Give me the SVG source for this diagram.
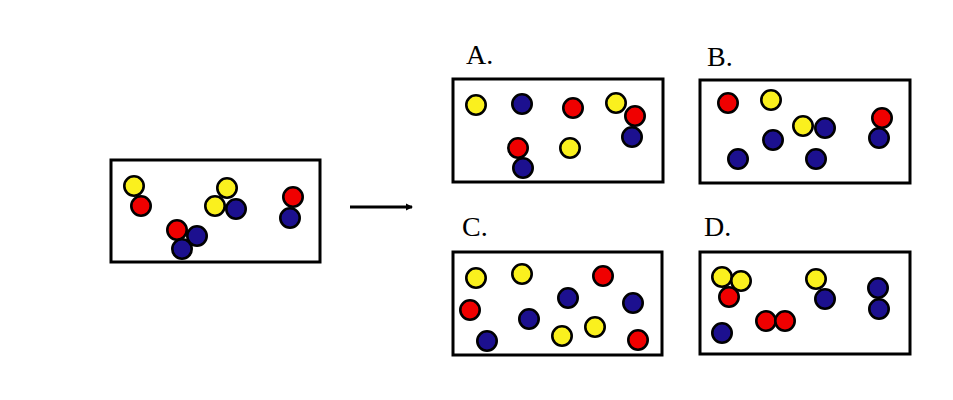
<svg xmlns="http://www.w3.org/2000/svg" width="953" height="400" viewBox="0 0 953 400">
<style>
.box{fill:#fff;stroke:#000;stroke-width:3}
.y{fill:#FAF01E;stroke:#000;stroke-width:2.6}
.r{fill:#F00000;stroke:#000;stroke-width:2.6}
.b{fill:#1C108F;stroke:#000;stroke-width:2.6}
.lbl{font-family:"Liberation Serif",serif;font-size:28px;fill:#000}
</style>
<defs>
<marker id="ah" markerWidth="9" markerHeight="9" refX="6" refY="4.5" orient="auto" markerUnits="userSpaceOnUse">
<path d="M0,1 L7,4.5 L0,8 Z" fill="#000"/>
</marker>
</defs>
<rect width="953" height="400" fill="#fff"/>
<g id="start">
<rect class="box" x="111" y="160" width="209" height="102"/>
<circle class="y" cx="134" cy="186" r="9.7"/>
<circle class="r" cx="141" cy="206" r="9.7"/>
<circle class="y" cx="227" cy="188" r="9.7"/>
<circle class="y" cx="215" cy="206" r="9.7"/>
<circle class="b" cx="236" cy="209" r="9.7"/>
<circle class="r" cx="293" cy="197" r="9.7"/>
<circle class="b" cx="290" cy="218" r="9.7"/>
<circle class="b" cx="197" cy="236" r="9.7"/>
<circle class="r" cx="177" cy="230" r="9.7"/>
<circle class="b" cx="182" cy="249" r="9.7"/>
</g>
<g id="connectors">
<line x1="350" y1="207" x2="412" y2="207" stroke="#000" stroke-width="2.8" marker-end="url(#ah)"/>
</g>
<g id="optA">
<text class="lbl" x="466" y="64">A.</text>
<rect class="box" x="453" y="79" width="210" height="103"/>
<circle class="y" cx="476" cy="105" r="9.7"/>
<circle class="b" cx="522" cy="104" r="9.7"/>
<circle class="r" cx="573" cy="108" r="9.7"/>
<circle class="y" cx="616" cy="103" r="9.7"/>
<circle class="r" cx="635" cy="116" r="9.7"/>
<circle class="b" cx="632" cy="137" r="9.7"/>
<circle class="r" cx="518" cy="148" r="9.7"/>
<circle class="b" cx="523" cy="168" r="9.7"/>
<circle class="y" cx="570" cy="148" r="9.7"/>
</g>
<g id="optB">
<text class="lbl" x="707" y="66">B.</text>
<rect class="box" x="700" y="80" width="210" height="103"/>
<circle class="r" cx="728" cy="103" r="9.7"/>
<circle class="y" cx="771" cy="100" r="9.7"/>
<circle class="y" cx="803" cy="126" r="9.7"/>
<circle class="b" cx="825" cy="128" r="9.7"/>
<circle class="r" cx="882" cy="118" r="9.7"/>
<circle class="b" cx="879" cy="138" r="9.7"/>
<circle class="b" cx="773" cy="140" r="9.7"/>
<circle class="b" cx="738" cy="159" r="9.7"/>
<circle class="b" cx="816" cy="159" r="9.7"/>
</g>
<g id="optC">
<text class="lbl" x="462" y="236">C.</text>
<rect class="box" x="453" y="252" width="209" height="103"/>
<circle class="y" cx="476" cy="278" r="9.7"/>
<circle class="y" cx="522" cy="274" r="9.7"/>
<circle class="r" cx="603" cy="276" r="9.7"/>
<circle class="r" cx="470" cy="310" r="9.7"/>
<circle class="b" cx="568" cy="298" r="9.7"/>
<circle class="b" cx="633" cy="303" r="9.7"/>
<circle class="b" cx="529" cy="319" r="9.7"/>
<circle class="y" cx="595" cy="327" r="9.7"/>
<circle class="y" cx="562" cy="336" r="9.7"/>
<circle class="b" cx="487" cy="341" r="9.7"/>
<circle class="r" cx="638" cy="340" r="9.7"/>
</g>
<g id="optD">
<text class="lbl" x="704" y="236">D.</text>
<rect class="box" x="700" y="252" width="210" height="102"/>
<circle class="y" cx="722" cy="277" r="9.7"/>
<circle class="y" cx="741" cy="281" r="9.7"/>
<circle class="r" cx="729" cy="297" r="9.7"/>
<circle class="y" cx="816" cy="279" r="9.7"/>
<circle class="b" cx="825" cy="299" r="9.7"/>
<circle class="b" cx="878" cy="288" r="9.7"/>
<circle class="b" cx="879" cy="309" r="9.7"/>
<circle class="r" cx="766" cy="321" r="9.7"/>
<circle class="r" cx="785" cy="321" r="9.7"/>
<circle class="b" cx="722" cy="333" r="9.7"/>
</g>
</svg>
